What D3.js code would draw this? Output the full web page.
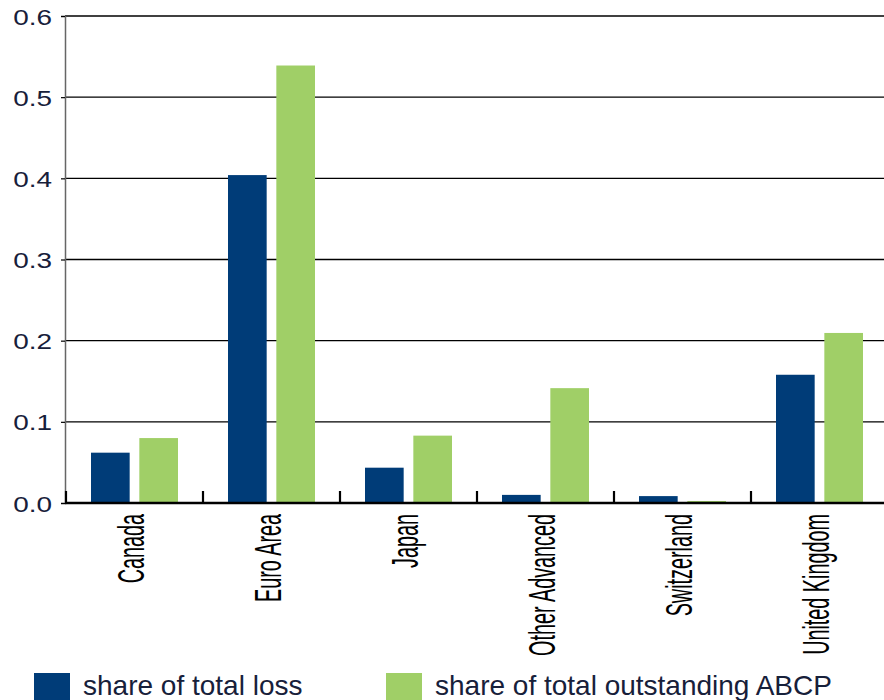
<!DOCTYPE html>
<html>
<head>
<meta charset="utf-8">
<script src="https://cdn.jsdelivr.net/npm/d3@7"></script>
<style>
  html, body { margin: 0; padding: 0; background: #fff; }
  svg { display: block; font-family: "Liberation Sans", Arial, sans-serif; }
</style>
</head>
<body>
<svg id="chart" width="884" height="700"></svg>
<script>
const categories = ["Canada", "Euro Area", "Japan", "Other Advanced", "Switzerland", "United Kingdom"];
const seriesNames = ["share of total loss", "share of total outstanding ABCP"];
const shareOfTotalLoss = [0.062, 0.404, 0.0435, 0.010, 0.0085, 0.158];
const shareOfOutstandingABCP = [0.080, 0.539, 0.083, 0.1415, 0.0025, 0.2095];
const yTicks = [0.0, 0.1, 0.2, 0.3, 0.4, 0.5, 0.6];
const colors = ["#003C78", "#A0CF67"];

const svg = d3.select("#chart");
const plotLeft = 65, plotRight = 884, plotTop = 16, plotBottom = 503;

const y = d3.scaleLinear().domain([0, 0.6]).range([plotBottom, plotTop]);
const x0 = d3.scaleBand().domain(categories).range([66, 888]).paddingInner(0).paddingOuter(0);
const x1 = d3.scaleBand().domain([0, 1]).range([25, 112]).paddingInner(0.2).paddingOuter(0);

// gridlines
svg.append("g").selectAll("line").data(yTicks.filter(d => d > 0)).join("line")
  .attr("x1", plotLeft).attr("x2", plotRight)
  .attr("y1", d => y(d)).attr("y2", d => y(d))
  .attr("stroke", "#000").attr("stroke-width", 1.4);

// y axis
const yAxis = d3.axisLeft(y).tickValues(yTicks).tickFormat(d3.format(".1f")).tickSize(4).tickPadding(0);
const gy = svg.append("g").attr("transform", `translate(${plotLeft},0)`).call(yAxis);
gy.select(".domain").attr("stroke", "#666").attr("stroke-width", 1.5);
gy.selectAll(".tick line").attr("stroke", "#000").attr("stroke-width", 1.2);
gy.selectAll(".tick text").remove();
gy.selectAll(".tick").append("text")
  .attr("transform", "translate(-13,8) scale(1.27,1)")
  .attr("text-anchor", "end")
  .attr("fill", "#17203a")
  .attr("font-size", 22)
  .text(d => d3.format(".1f")(d));

// bars
const rows = categories.map((c, i) => ({ c, vals: [shareOfTotalLoss[i], shareOfOutstandingABCP[i]] }));
const groups = svg.append("g").selectAll("g").data(rows).join("g")
  .attr("transform", d => `translate(${x0(d.c)},0)`);
groups.selectAll("rect").data(d => d.vals.map((v, k) => ({ v, k }))).join("rect")
  .attr("x", d => x1(d.k))
  .attr("width", x1.bandwidth())
  .attr("y", d => y(d.v))
  .attr("height", d => y(0) - y(d.v))
  .attr("fill", d => colors[d.k]);

// x axis baseline and boundary ticks
const boundaries = categories.map(c => x0(c));
svg.append("line").attr("x1", plotLeft).attr("x2", plotRight).attr("y1", plotBottom).attr("y2", plotBottom)
  .attr("stroke", "#000").attr("stroke-width", 2.5);
svg.append("g").selectAll("line").data(boundaries).join("line")
  .attr("x1", d => d).attr("x2", d => d)
  .attr("y1", plotBottom).attr("y2", plotBottom - 12)
  .attr("stroke", "#000").attr("stroke-width", 2.2);

// category labels (rotated, condensed)
svg.append("g").selectAll("text").data(categories).join("text")
  .attr("transform", d => `translate(${x0(d) + x0.bandwidth() / 2 + 9.5},514) rotate(-90) scale(0.55,1)`)
  .attr("text-anchor", "end")
  .attr("font-size", 36)
  .attr("fill", "#000")
  .text(d => d);

// legend
const legendX = [34, 386];
const lg = svg.append("g").selectAll("g").data(seriesNames).join("g")
  .attr("transform", (d, i) => `translate(${legendX[i]},0)`);
lg.append("rect").attr("x", 0).attr("y", 673).attr("width", 36).attr("height", 30)
  .attr("fill", (d, i) => colors[i]);
lg.append("text").attr("x", 49).attr("y", 695)
  .attr("font-size", 28).attr("fill", "#17203a")
  .text(d => d);
</script>
</body>
</html>
